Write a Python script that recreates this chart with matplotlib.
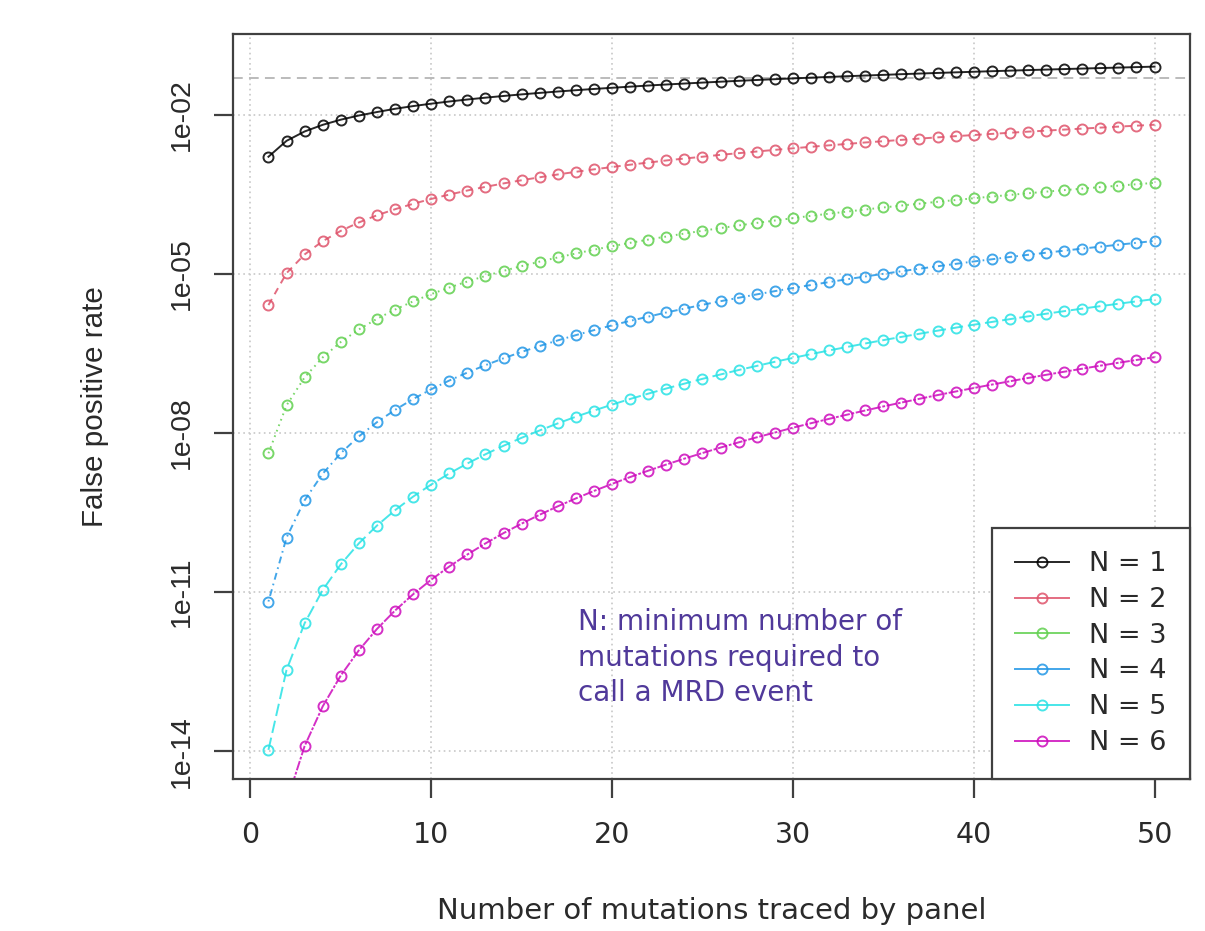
import matplotlib.pyplot as plt
import numpy as np
from matplotlib.lines import Line2D
from matplotlib.ticker import NullLocator

# x: number of mutations traced by panel
panelSizes = np.arange(1, 51)

# false positive rate, one list per N
fprN1 = [1.61e-3, 3.21e-3, 4.82e-3, 6.43e-3, 8.04e-3, 9.64e-3, 1.12e-2, 1.29e-2, 1.45e-2, 1.61e-2,
         1.77e-2, 1.93e-2, 2.09e-2, 2.25e-2, 2.41e-2, 2.57e-2, 2.73e-2, 2.89e-2, 3.05e-2, 3.21e-2,
         3.37e-2, 3.54e-2, 3.70e-2, 3.86e-2, 4.02e-2, 4.18e-2, 4.34e-2, 4.50e-2, 4.66e-2, 4.82e-2,
         4.98e-2, 5.14e-2, 5.30e-2, 5.46e-2, 5.62e-2, 5.79e-2, 5.95e-2, 6.11e-2, 6.27e-2, 6.43e-2,
         6.59e-2, 6.75e-2, 6.91e-2, 7.07e-2, 7.23e-2, 7.39e-2, 7.55e-2, 7.71e-2, 7.87e-2, 8.04e-2]
fprN2 = [2.58e-6, 1.03e-5, 2.32e-5, 4.13e-5, 6.46e-5, 9.30e-5, 1.27e-4, 1.65e-4, 2.09e-4, 2.58e-4,
         3.12e-4, 3.72e-4, 4.36e-4, 5.06e-4, 5.81e-4, 6.61e-4, 7.46e-4, 8.37e-4, 9.32e-4, 1.03e-3,
         1.14e-3, 1.25e-3, 1.37e-3, 1.49e-3, 1.61e-3, 1.75e-3, 1.88e-3, 2.02e-3, 2.17e-3, 2.32e-3,
         2.48e-3, 2.64e-3, 2.81e-3, 2.99e-3, 3.16e-3, 3.35e-3, 3.54e-3, 3.73e-3, 3.93e-3, 4.13e-3,
         4.34e-3, 4.56e-3, 4.78e-3, 5.00e-3, 5.23e-3, 5.46e-3, 5.70e-3, 5.95e-3, 6.20e-3, 6.46e-3]
fprN3 = [4.15e-9, 3.32e-8, 1.12e-7, 2.66e-7, 5.19e-7, 8.96e-7, 1.42e-6, 2.12e-6, 3.03e-6, 4.15e-6,
         5.52e-6, 7.17e-6, 9.12e-6, 1.14e-5, 1.40e-5, 1.70e-5, 2.04e-5, 2.42e-5, 2.85e-5, 3.32e-5,
         3.84e-5, 4.42e-5, 5.05e-5, 5.74e-5, 6.48e-5, 7.29e-5, 8.17e-5, 9.11e-5, 1.01e-4, 1.12e-4,
         1.24e-4, 1.36e-4, 1.49e-4, 1.63e-4, 1.78e-4, 1.94e-4, 2.10e-4, 2.28e-4, 2.46e-4, 2.66e-4,
         2.86e-4, 3.07e-4, 3.30e-4, 3.54e-4, 3.78e-4, 4.04e-4, 4.31e-4, 4.59e-4, 4.88e-4, 5.19e-4]
fprN4 = [6.67e-12, 1.07e-10, 5.40e-10, 1.71e-9, 4.17e-9, 8.64e-9, 1.60e-8, 2.73e-8, 4.38e-8, 6.67e-8,
         9.76e-8, 1.38e-7, 1.90e-7, 2.56e-7, 3.38e-7, 4.37e-7, 5.57e-7, 7.00e-7, 8.69e-7, 1.07e-6,
         1.30e-6, 1.56e-6, 1.87e-6, 2.21e-6, 2.61e-6, 3.05e-6, 3.54e-6, 4.10e-6, 4.72e-6, 5.40e-6,
         6.16e-6, 6.99e-6, 7.91e-6, 8.91e-6, 1.00e-5, 1.12e-5, 1.25e-5, 1.39e-5, 1.54e-5, 1.71e-5,
         1.88e-5, 2.08e-5, 2.28e-5, 2.50e-5, 2.73e-5, 2.99e-5, 3.25e-5, 3.54e-5, 3.84e-5, 4.17e-5]
fprN5 = [1.07e-14, 3.43e-13, 2.60e-12, 1.10e-11, 3.35e-11, 8.33e-11, 1.80e-10, 3.51e-10, 6.33e-10, 1.07e-9,
         1.73e-9, 2.67e-9, 3.98e-9, 5.76e-9, 8.14e-9, 1.12e-8, 1.52e-8, 2.03e-8, 2.65e-8, 3.43e-8,
         4.38e-8, 5.52e-8, 6.90e-8, 8.53e-8, 1.05e-7, 1.27e-7, 1.54e-7, 1.84e-7, 2.20e-7, 2.60e-7,
         3.07e-7, 3.60e-7, 4.19e-7, 4.87e-7, 5.63e-7, 6.48e-7, 7.43e-7, 8.49e-7, 9.67e-7, 1.10e-6,
         1.24e-6, 1.40e-6, 1.58e-6, 1.77e-6, 1.98e-6, 2.21e-6, 2.46e-6, 2.73e-6, 3.03e-6, 3.35e-6]
fprN6 = [1.72e-17, 1.10e-15, 1.26e-14, 7.05e-14, 2.69e-13, 8.04e-13, 2.03e-12, 4.51e-12, 9.15e-12, 1.72e-11,
         3.05e-11, 5.14e-11, 8.31e-11, 1.30e-10, 1.96e-10, 2.89e-10, 4.16e-10, 5.86e-10, 8.10e-10, 1.10e-9,
         1.48e-9, 1.95e-9, 2.55e-9, 3.29e-9, 4.20e-9, 5.32e-9, 6.67e-9, 8.30e-9, 1.02e-8, 1.26e-8,
         1.53e-8, 1.85e-8, 2.22e-8, 2.66e-8, 3.17e-8, 3.75e-8, 4.42e-8, 5.19e-8, 6.06e-8, 7.05e-8,
         8.18e-8, 9.45e-8, 1.09e-7, 1.25e-7, 1.43e-7, 1.63e-7, 1.86e-7, 2.11e-7, 2.38e-7, 2.69e-7]

seriesLabels = ["N = 1", "N = 2", "N = 3", "N = 4", "N = 5", "N = 6"]
thresholdRate = 0.05

yTicks = [1e-2, 1e-5, 1e-8, 1e-11, 1e-14]
yTickLabels = ["1e-02", "1e-05", "1e-08", "1e-11", "1e-14"]
xTicks = [0, 10, 20, 30, 40, 50]

note = "N: minimum number of\nmutations required to\ncall a MRD event"

# R default palette + lty 1..6
colors = ["black", "#DF536B", "#61D04F", "#2297E6", "#28E2E5", "#CD0BBC"]
lineStyles = ["-", (0, (5, 4)), (0, (1.2, 3)), (0, (1.2, 3, 5, 3)), (0, (9, 3.5)), (0, (2, 1.2, 7, 1.2))]

plt.rcParams["lines.scale_dashes"] = False
frameColor = "#404040"
textColor = "#2a2a2a"
lineW = 1.4

fig = plt.figure(figsize=(12.05, 9.31), dpi=100)
ax = fig.add_axes([233 / 1205, 1 - 779 / 931, (1190 - 233) / 1205, (779 - 34) / 931])

allSeries = [fprN1, fprN2, fprN3, fprN4, fprN5, fprN6]

# grid first so it sits under the curves
for xt in xTicks:
    ax.axvline(xt, color="#cccccc", lw=1.3, ls=(0, (1.2, 2.5)), zorder=0)
for yt in yTicks:
    ax.axhline(yt, color="#cccccc", lw=1.3, ls=(0, (1.2, 2.5)), zorder=0)
ax.axhline(thresholdRate, color="#b5b5b5", lw=1.3, ls=(0, (7, 4.5)), zorder=1)

for i in range(len(allSeries)):
    ax.plot(panelSizes, allSeries[i], color=colors[i], ls=lineStyles[i], lw=lineW,
            marker="o", ms=7.2, mfc="none", mew=1.4, alpha=0.85, zorder=2)

ax.set_yscale("log")
ax.set_xlim(-0.96, 51.96)
ax.set_ylim(10 ** -14.52, 10 ** -0.48)
ax.yaxis.set_minor_locator(NullLocator())
ax.set_yticks(yTicks)
ax.set_yticklabels(yTickLabels, rotation=90, va="center", family="Liberation Sans", fontsize=20.5)
ax.set_xticks(xTicks)
ax.set_xticklabels([str(v) for v in xTicks], family="DejaVu Sans", fontsize=20.5)

for sp in ax.spines.values():
    sp.set_color(frameColor)
    sp.set_linewidth(1.6)
ax.tick_params(axis="both", direction="out", length=13.5, width=1.6, color=frameColor, labelcolor=textColor)
ax.tick_params(axis="x", pad=17)
ax.tick_params(axis="y", pad=14)

ax.set_xlabel("Number of mutations traced by panel", family="DejaVu Sans", fontsize=21,
              color=textColor, labelpad=34)
ax.set_ylabel("False positive rate", family="Liberation Sans", fontsize=21.3,
              color=textColor, labelpad=43)

# legend: solid lines with open circles, bottom right corner
handles = [Line2D([], [], color=colors[i], lw=lineW, marker="o", ms=7.2, mfc="none", mew=1.4, alpha=0.85)
           for i in range(len(seriesLabels))]
leg = ax.legend(handles, seriesLabels, loc="lower right", borderaxespad=0, fancybox=False,
                framealpha=1, edgecolor=frameColor, prop={"family": "DejaVu Sans", "size": 19.5},
                borderpad=0.85, handlelength=2.0, handletextpad=0.75, labelspacing=0.36)
leg.get_frame().set_linewidth(1.6)
for t in leg.get_texts():
    t.set_color(textColor)

fig.text(578 / 1205, 1 - 608 / 931, note, color="#50399A", family="DejaVu Sans", fontsize=20,
         ha="left", va="top", linespacing=1.35)

fig.savefig("out.png", dpi=100)
